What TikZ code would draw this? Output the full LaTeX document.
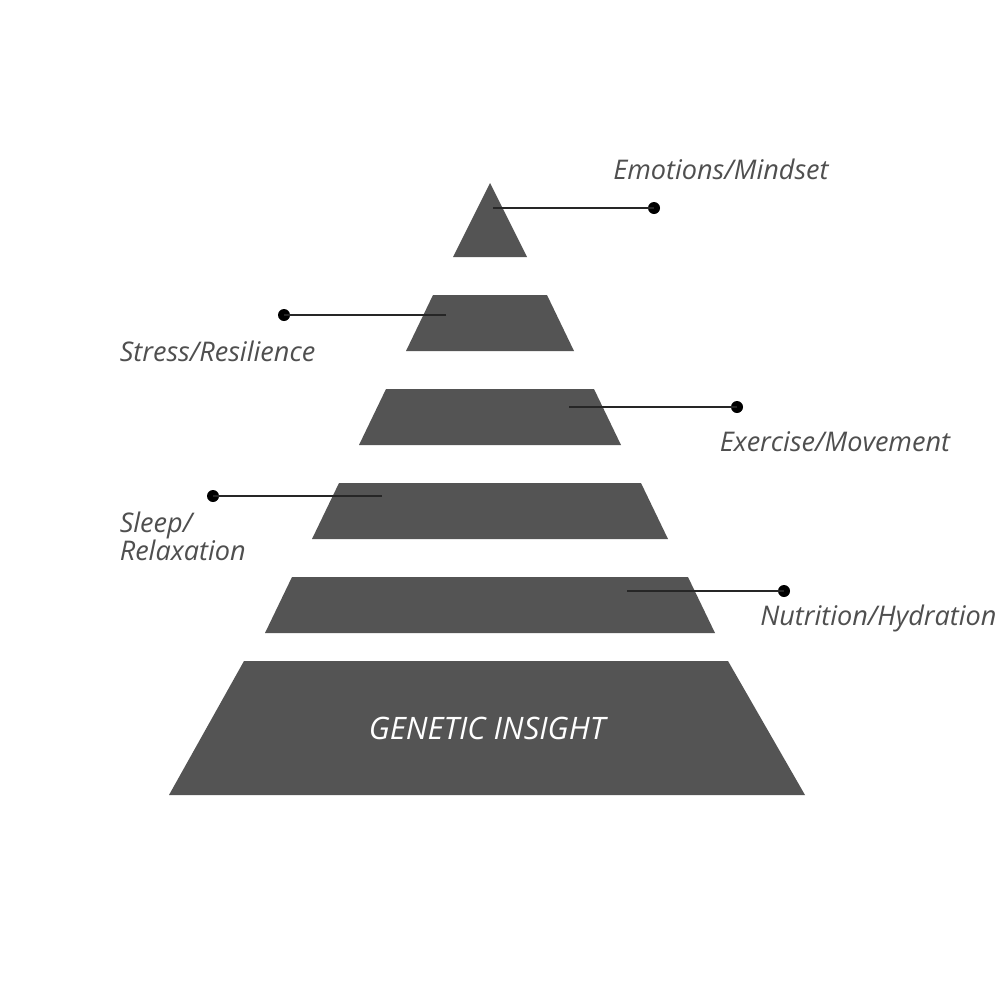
\documentclass[tikz,border=0pt]{standalone}
\usepackage{fontspec}
\setmainfont{Open Sans}
\begin{document}
\begin{tikzpicture}[x=0.75pt,y=-0.75pt,
  tier/.style={fill=tierfill,draw=none},
  label/.style={font=\itshape\fontsize{20.3}{23}\selectfont,text=labelgray,inner sep=0pt,anchor=base west},
  dot/.style={circle,fill=black,inner sep=0pt,minimum size=9pt},
  leader/.style={draw=black!85,line width=0.9pt}]
\definecolor{tierfill}{HTML}{545454}
\definecolor{labelgray}{HTML}{4F4F4F}
\useasboundingbox (0,0) rectangle (1000,1000);
\fill[white] (0,0) rectangle (1000,1000);
% tiers
\path[tier] (490,183) -- (527,257) -- (453,257) -- cycle;
\path[tier] (433,295) -- (547,295) -- (574,351) -- (406,351) -- cycle;
\path[tier] (386,389) -- (594,389) -- (621,445) -- (359,445) -- cycle;
\path[tier] (339,483) -- (641,483) -- (668,539) -- (312,539) -- cycle;
\path[tier] (292,577) -- (688,577) -- (715,633) -- (265,633) -- cycle;
\path[tier] (244,661) -- (728,661) -- (805,795) -- (169,795) -- cycle;
\node[font=\itshape\fontsize{23.2}{27}\selectfont,text=white,inner sep=0pt,anchor=base] (gen) at (487,739) {GENETIC INSIGHT};
% leader start points
\coordinate (e1) at (493,208);
\coordinate (s1) at (446,315);
\coordinate (x1) at (569,407);
\coordinate (l1) at (382,496);
\coordinate (n1) at (627,591);
% dots
\node[dot] (e2) at (654,208) {};
\node[dot] (s2) at (284,315) {};
\node[dot] (x2) at (737,407) {};
\node[dot] (l2) at (213,496) {};
\node[dot] (n2) at (784,591) {};
\draw[leader] (e1) -- (e2.center);
\draw[leader] (s1) -- (s2.center);
\draw[leader] (x1) -- (x2.center);
\draw[leader] (l1) -- (l2.center);
\draw[leader] (n1) -- (n2.center);
% labels
\node[label] (te) at (613,179.5) {Emotions/Mindset};
\node[label] (ts) at (119.5,361.5) {Stress/Resilience};
\node[label] (tx) at (719.5,451.5) {Exercise/Movement};
\node[label] (tl) at (119.5,532.5) {Sleep/};
\node[label] (tl2) at (119.5,560.5) {Relaxation};
\node[label] (tn) at (760,625) {Nutrition/Hydration};
\end{tikzpicture}
\end{document}
